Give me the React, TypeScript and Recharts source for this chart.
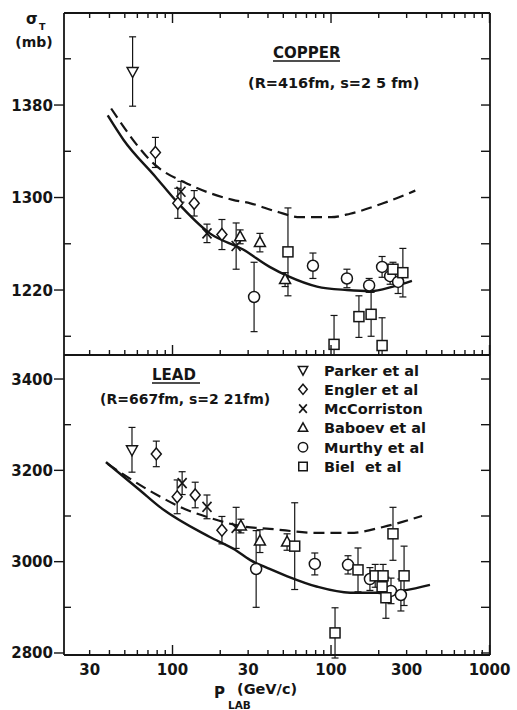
import React from "react";
import { ComposedChart, Line, Scatter, ErrorBar, XAxis, YAxis, Legend } from "recharts";

const INK = "#151515";
const FONT = "'DejaVu Sans', sans-serif";

// momentum axis (log), tick positions and the printed labels
const pTicks = [3, 4, 5, 6, 7, 8, 9, 10, 20, 30, 40, 50, 60, 70, 80, 90, 100, 200, 300, 400, 500, 600, 700, 800, 900, 1000];
const pLongTicks = [10, 100, 1000];
const pLabelAt = [3, 10, 30, 100, 300, 1000];
const pLabelText = ["30", "100", "30", "100", "300", "1000"];

const cuTicks = [1180, 1220, 1260, 1300, 1340, 1380, 1420];
const cuLabels = [1220, 1300, 1380];
const pbTicks = [2800, 2900, 3000, 3100, 3200, 3300, 3400];
const pbLabels = [2800, 3000, 3200, 3400];

const groups = ["Parker et al", "Engler et al", "McCorriston", "Baboev et al", "Murthy et al", "Biel  et al"];
const kinds = ["down", "diamond", "x", "up", "circle", "square"];

// copper data: [p (GeV/c), sigma (mb), error]
const cuParker = [[5.6, 1409, 30]];
const cuEngler = [[7.8, 1339, 13], [10.8, 1295, 13], [13.7, 1295, 11], [20.5, 1268, 13]];
const cuMcCorriston = [[11.3, 1305, 9], [16.5, 1269, 8], [25.2, 1258, 20]];
const cuBaboev = [[26.7, 1266, 6], [35.6, 1261, 8], [51.3, 1229, 6]];
const cuMurthy = [[32.7, 1214, 30], [76.9, 1241, 11], [126, 1230, 8], [174, 1224, 6], [210, 1240, 9], [236, 1232, 7], [265, 1227, 10]];
const cuBiel = [[53.5, 1253, 38], [104.5, 1173, 25], [150, 1197, 18], [179, 1199, 19], [210, 1172, 24], [246, 1238, 6], [284, 1235, 21]];
const cuSolid = [[3.9, 1371], [4.9, 1350], [7.8, 1318], [10.7, 1296], [17.2, 1269], [27.9, 1255], [41, 1240], [53.5, 1232], [81.6, 1223], [126, 1220], [177, 1219], [246, 1223], [324, 1228]];
const cuDashed = [[4.1, 1377], [7.8, 1328], [12.4, 1312], [24, 1298], [31, 1295], [45, 1288], [64, 1283], [100, 1283], [132, 1286], [213, 1295], [340, 1306]];

// lead data
const pbParker = [[5.55, 3245, 49]];
const pbEngler = [[7.9, 3236, 28], [10.7, 3142, 37], [13.9, 3146, 28], [20.5, 3069, 30]];
const pbMcCorriston = [[11.5, 3172, 25], [16.5, 3120, 26], [25.2, 3074, 45]];
const pbBaboev = [[27, 3078, 15], [35.6, 3045, 25], [52.8, 3043, 18]];
const pbMurthy = [[33.7, 2984, 84], [79, 2995, 24], [128, 2993, 20], [176, 2962, 25], [239, 2936, 28], [276, 2927, 35]];
const pbBiel = [[59, 3034, 95], [106, 2844, 55], [148, 2982, 48], [190, 2969, 25], [213, 2969, 25], [210, 2945, 15], [222, 2921, 45], [246, 3061, 58], [289, 2969, 65]];
const pbSolid = [[3.8, 3218], [6.2, 3157], [8.3, 3120], [17.2, 3054], [24.8, 3026], [30.8, 3004], [41, 2984], [53, 2968], [82, 2945], [132, 2932], [213, 2932], [421, 2949]];
const pbDashed = [[3.9, 3214], [7.2, 3155], [12.6, 3112], [17.2, 3096], [27.9, 3077], [41, 3072], [82, 3063], [132, 3063], [213, 3076], [375, 3100]];

const pts = (rows: number[][]) => rows.map(([p, s, e]) => ({ p, s, e }));

const Mark = ({ kind, cx, cy, k = 1 }: { kind: string; cx: number; cy: number; k?: number }) => {
  const st = { stroke: INK, strokeWidth: 1.5, fill: "#fff" };
  if (kind === "circle") return <circle cx={cx} cy={cy} r={5.5 * k} {...st} />;
  if (kind === "square") return <rect x={cx - 5 * k} y={cy - 5 * k} width={10 * k} height={10 * k} {...st} />;
  if (kind === "diamond")
    return <polygon points={`${cx},${cy - 6 * k} ${cx + 5 * k},${cy} ${cx},${cy + 6 * k} ${cx - 5 * k},${cy}`} {...st} />;
  if (kind === "up")
    return <polygon points={`${cx},${cy - 6 * k} ${cx + 5.5 * k},${cy + 4 * k} ${cx - 5.5 * k},${cy + 4 * k}`} {...st} />;
  if (kind === "down")
    return <polygon points={`${cx - 5.5 * k},${cy - 4 * k} ${cx + 5.5 * k},${cy - 4 * k} ${cx},${cy + 6 * k}`} {...st} />;
  return (
    <g stroke={INK} strokeWidth={1.6}>
      <line x1={cx - 4.5 * k} y1={cy - 5 * k} x2={cx + 4.5 * k} y2={cy + 5 * k} />
      <line x1={cx + 4.5 * k} y1={cy - 5 * k} x2={cx - 4.5 * k} y2={cy + 5 * k} />
    </g>
  );
};

const PTick = (props: any) => {
  const { x, y, payload, dir, labels } = props;
  const v = payload.value;
  const len = pLongTicks.includes(v) ? 10 : 5;
  const i = pLabelAt.indexOf(v);
  return (
    <g>
      <line x1={x} x2={x} y1={y} y2={y + dir * len} stroke={INK} strokeWidth={1.4} />
      {labels && i >= 0 && (
        <text x={x} y={y + 20} textAnchor="middle" fontSize={15} fontWeight="bold" fontFamily={FONT} fill={INK}>
          {pLabelText[i]}
        </text>
      )}
    </g>
  );
};

const LeftTick = (props: any) => {
  const { x, y, payload, labels } = props;
  const v = payload.value;
  const major = labels.includes(v);
  return (
    <g>
      {major ? (
        <line x1={x - 10} x2={x} y1={y} y2={y} stroke={INK} strokeWidth={1.4} />
      ) : (
        <line x1={x} x2={x + 7} y1={y} y2={y} stroke={INK} strokeWidth={1.4} />
      )}
      {major && (
        <text x={x - 11} y={y} dy={5.5} textAnchor="end" fontSize={15} fontWeight="bold" fontFamily={FONT} fill={INK}>
          {v}
        </text>
      )}
    </g>
  );
};

const RightTick = (props: any) => (
  <line x1={props.x} x2={props.x - 9} y1={props.y} y2={props.y} stroke={INK} strokeWidth={1.4} />
);

const LegendBox = () => (
  <svg width={200} height={124}>
    {groups.map((g, i) => {
      const cy = 15 + i * 19.3;
      return (
        <g key={g}>
          <Mark kind={kinds[i]} cx={13} cy={cy} k={0.85} />
          <text x={34} y={cy + 5.5} fontSize={14.5} fontWeight="bold" fontFamily={FONT} fill={INK} style={{ whiteSpace: "pre" }}>
            {g}
          </text>
        </g>
      );
    })}
  </svg>
);

const axisLine = { stroke: INK, strokeWidth: 1.8 };

type PanelProps = {
  series: number[][][];
  solid: number[][];
  dashed: number[][];
  domain: [number, number];
  ticks: number[];
  labels: number[];
  height: number;
  margin: { top: number; right: number; bottom: number; left: number };
  withTop: boolean;
  bottomHeight: number;
  bottomLabels: boolean;
  legend: boolean;
};

const Panel = (p: PanelProps) => (
  <ComposedChart width={517} height={p.height} margin={p.margin}>
    <XAxis
      xAxisId="b"
      dataKey="p"
      type="number"
      scale="log"
      domain={[2.067, 1007]}
      allowDataOverflow
      ticks={pTicks}
      interval={0}
      tickSize={0}
      tickMargin={0}
      tickLine={false}
      axisLine={axisLine}
      height={p.bottomHeight}
      tick={(t: any) => <PTick {...t} dir={-1} labels={p.bottomLabels} />}
    />
    {p.withTop && (
      <XAxis
        xAxisId="t"
        orientation="top"
        dataKey="p"
        type="number"
        scale="log"
        domain={[2.067, 1007]}
        allowDataOverflow
        ticks={pTicks}
        interval={0}
        tickSize={0}
        tickMargin={0}
        tickLine={false}
        axisLine={axisLine}
        height={13}
        tick={(t: any) => <PTick {...t} dir={1} labels={false} />}
      />
    )}
    <YAxis
      yAxisId="l"
      type="number"
      domain={p.domain}
      allowDataOverflow
      ticks={p.ticks}
      interval={0}
      width={64}
      tickSize={0}
      tickMargin={0}
      tickLine={false}
      axisLine={axisLine}
      tick={(t: any) => <LeftTick {...t} labels={p.labels} />}
    />
    <YAxis
      yAxisId="r"
      orientation="right"
      type="number"
      domain={p.domain}
      allowDataOverflow
      ticks={p.ticks}
      interval={0}
      width={27}
      tickSize={0}
      tickMargin={0}
      tickLine={false}
      axisLine={axisLine}
      tick={(t: any) => <RightTick {...t} />}
    />
    <Line
      xAxisId="b"
      yAxisId="l"
      data={p.dashed.map(([x, s]) => ({ p: x, s }))}
      dataKey="s"
      type="monotone"
      dot={false}
      stroke={INK}
      strokeWidth={2.2}
      strokeDasharray="11 6"
      isAnimationActive={false}
    />
    <Line
      xAxisId="b"
      yAxisId="l"
      data={p.solid.map(([x, s]) => ({ p: x, s }))}
      dataKey="s"
      type="monotone"
      dot={false}
      stroke={INK}
      strokeWidth={2.4}
      isAnimationActive={false}
    />
    {p.series.map((rows, i) => (
      <Scatter
        key={groups[i]}
        name={groups[i]}
        xAxisId="b"
        yAxisId="l"
        data={pts(rows)}
        dataKey="s"
        isAnimationActive={false}
        shape={(s: any) => <Mark kind={kinds[i]} cx={s.cx} cy={s.cy} />}
      >
        <ErrorBar dataKey="e" direction="y" width={3.5} stroke={INK} strokeWidth={1.2} isAnimationActive={false} />
      </Scatter>
    ))}
    {p.legend && (
      <Legend
        layout="vertical"
        align="center"
        verticalAlign="middle"
        content={() => <LegendBox />}
        wrapperStyle={{ left: 290, top: 10, width: 200, height: 124 }}
      />
    )}
  </ComposedChart>
);

const txt = { fontFamily: FONT, fontWeight: "bold" as const, fill: INK };

export default function App() {
  return (
    <div style={{ position: "absolute", left: 0, top: 0, width: 517, height: 710, background: "#fff", overflow: "hidden" }}>
      <div style={{ position: "absolute", left: 0, top: 0 }}>
        <Panel
          series={[cuParker, cuEngler, cuMcCorriston, cuBaboev, cuMurthy, cuBiel]}
          solid={cuSolid}
          dashed={cuDashed}
          domain={[1163.8, 1459.6]}
          ticks={cuTicks}
          labels={cuLabels}
          height={356}
          margin={{ top: 0, right: 0, bottom: 0, left: 0 }}
          withTop
          bottomHeight={1}
          bottomLabels={false}
          legend={false}
        />
      </div>
      <div style={{ position: "absolute", left: 0, top: 345 }}>
        <Panel
          series={[pbParker, pbEngler, pbMcCorriston, pbBaboev, pbMurthy, pbBiel]}
          solid={pbSolid}
          dashed={pbDashed}
          domain={[2795.6, 3452.6]}
          ticks={pbTicks}
          labels={pbLabels}
          height={365}
          margin={{ top: 10, right: 0, bottom: 0, left: 0 }}
          withTop={false}
          bottomHeight={55}
          bottomLabels
          legend
        />
      </div>
      <svg width={517} height={710} style={{ position: "absolute", left: 0, top: 0, pointerEvents: "none" }}>
        <text x={26} y={24} fontSize={15} {...txt}>σ</text>
        <text x={39} y={30} fontSize={9.5} {...txt}>T</text>
        <text x={34} y={47} fontSize={14} textAnchor="middle" {...txt}>(mb)</text>
        <text x={273} y={58} fontSize={15} {...txt}>COPPER</text>
        <line x1={273} x2={340} y1={61} y2={61} stroke={INK} strokeWidth={1.5} />
        <text x={248} y={88} fontSize={14.5} {...txt}>(R=416fm, s=2 5 fm)</text>
        <text x={152} y={380} fontSize={15} {...txt}>LEAD</text>
        <line x1={152} x2={200} y1={383} y2={383} stroke={INK} strokeWidth={1.5} />
        <text x={100} y={404} fontSize={14} {...txt}>(R=667fm, s=2 21fm)</text>
        <text x={214} y={698} fontSize={15} {...txt}>P</text>
        <text x={228} y={709} fontSize={10.5} {...txt}>LAB</text>
        <text x={237} y={694} fontSize={14.5} {...txt}>(GeV/c)</text>
      </svg>
    </div>
  );
}
